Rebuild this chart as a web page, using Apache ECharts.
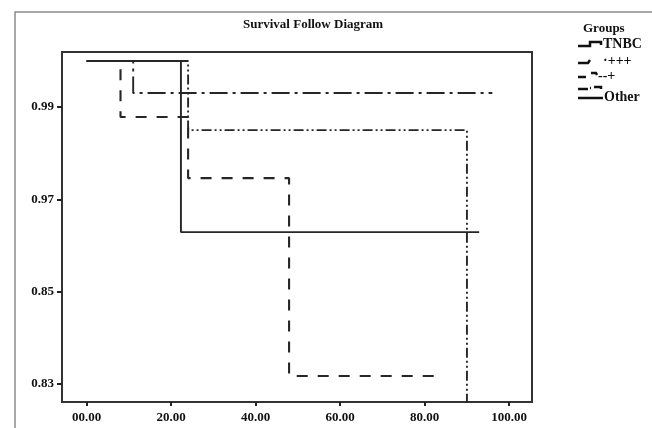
<!DOCTYPE html>
<html>
<head>
<meta charset="utf-8">
<script src="https://cdn.jsdelivr.net/npm/echarts@6/dist/echarts.min.js"></script>
<style>html,body{margin:0;padding:0;background:#fff;}#c{width:652px;height:428px;}</style>
</head>
<body>
<div id="c"></div>
<script>
// ---- data (y values are positions on the drawn axis: 0 = "0.83", 1 = "0.85", 2 = "0.97", 3 = "0.99") ----
var groups = ['TNBC', '\u00b7+++', '--+', 'Other'];
var xTickValues = [0, 20, 40, 60, 80, 100];
var xTickLabels = ['00.00', '20.00', '40.00', '60.00', '80.00', '100.00'];
var yTickValues = [0, 1, 2, 3];
var yTickLabels = ['0.83', '0.85', '0.97', '0.99'];

var tnbcTime = [0, 22.3, 92.9];
var tnbcSurv = [3.5, 1.646, 1.646];
var plusTime = [0, 11.0, 96.0];
var plusSurv = [3.5, 3.152, 3.152];
var minusTime = [0, 8.0, 24.0, 47.9, 84.3];
var minusSurv = [3.5, 2.892, 2.231, 0.087, 0.087];
var otherTime = [0, 24.0, 90.0, 90.0];
var otherSurv = [3.5, 2.751, 2.751, -1.0];

function pairs(t, s) { return t.map(function (v, i) { return [v, s[i]]; }); }

var lineColor = '#262626';
var styles = [
  { type: 'solid', width: 1.9 },
  { type: [18, 5, 3, 5], width: 1.9 },
  { type: [11, 10], width: 2.1 },
  { type: [10, 3, 2, 3, 2, 3], width: 1.9 }
];
var seriesData = [pairs(tnbcTime, tnbcSurv), pairs(plusTime, plusSurv), pairs(minusTime, minusSurv), pairs(otherTime, otherSurv)];

var serif = 'Liberation Serif';

// legend graphic
var legendRows = [44, 61, 76, 97];
var iconPaths = [
  function (y) { return [[[578, y + 2], [590, y + 2], [590, y - 2], [601, y - 2], [601, y + 1]]]; },
  function (y) { return [[[578, y + 2], [588, y + 2], [590, y - 1]]]; },
  function (y) { return [[[578, y + 1], [586, y + 1]], [[591, y - 3], [596, y - 3], [597, y - 1]]]; },
  function (y) { return [[[578, y - 8], [588, y - 8]], [[590, y - 9], [591, y - 9]], [[594, y - 10], [601, y - 10], [601, y - 8]], [[578, y + 1], [603, y + 1]]]; }
];
var textX = [603, 603, 598, 604];
var graphics = [
  { type: 'rect', shape: { x: 15, y: 12, width: 700, height: 500 }, style: { fill: 'none', stroke: '#8a8a8a', lineWidth: 1.5 }, silent: true },
  { type: 'text', left: 583, top: 22, style: { text: 'Groups', font: 'bold 13px ' + serif, fill: '#111' } }
];
groups.forEach(function (g, i) {
  var y = legendRows[i];
  iconPaths[i](y).forEach(function (pts) {
    graphics.push({ type: 'polyline', shape: { points: pts }, style: { stroke: '#111', lineWidth: 2.5, fill: 'none' } });
  });
  graphics.push({ type: 'text', x: textX[i], y: y, style: { text: g, font: 'bold 14px ' + serif, fill: '#111', verticalAlign: 'middle' } });
});

var chart = echarts.init(document.getElementById('c'));
chart.setOption({
  animation: false,
  backgroundColor: '#fff',
  title: {
    text: 'Survival Follow Diagram', left: 238, top: 13,
    textStyle: { fontFamily: serif, fontWeight: 'bold', fontSize: 13, color: '#111' }
  },
  grid: { left: 62, right: 120, top: 52, bottom: 26, show: true, borderColor: '#333', borderWidth: 2, backgroundColor: 'transparent' },
  xAxis: {
    type: 'value', min: -5.85, max: 105.4,
    splitLine: { show: false },
    axisLine: { show: true, onZero: false, lineStyle: { color: '#333', width: 2 } },
    axisTick: { show: true, inside: false, customValues: xTickValues, length: 4, lineStyle: { color: '#222', width: 2 } },
    axisLabel: {
      customValues: xTickValues, margin: 9,
      formatter: function (v) { var i = xTickValues.indexOf(v); return i >= 0 ? xTickLabels[i] : ''; },
      fontFamily: serif, fontWeight: 'bold', fontSize: 13, color: '#111'
    }
  },
  yAxis: {
    type: 'value', min: -0.195, max: 3.597,
    splitLine: { show: false },
    axisLine: { show: true, onZero: false, lineStyle: { color: '#333', width: 2 } },
    axisTick: { show: true, inside: false, customValues: yTickValues, length: 5, lineStyle: { color: '#222', width: 2 } },
    axisLabel: {
      customValues: yTickValues, margin: 8,
      formatter: function (v) { var i = yTickValues.indexOf(v); return i >= 0 ? yTickLabels[i] : ''; },
      fontFamily: serif, fontWeight: 'bold', fontSize: 13, color: '#111'
    }
  },
  series: groups.map(function (g, i) {
    return {
      name: g, type: 'line', step: 'end', data: seriesData[i], symbol: 'none', clip: true,
      lineStyle: { color: lineColor, width: styles[i].width, type: styles[i].type }, z: 4 - i
    };
  }),
  graphic: graphics
});
</script>
</body>
</html>
